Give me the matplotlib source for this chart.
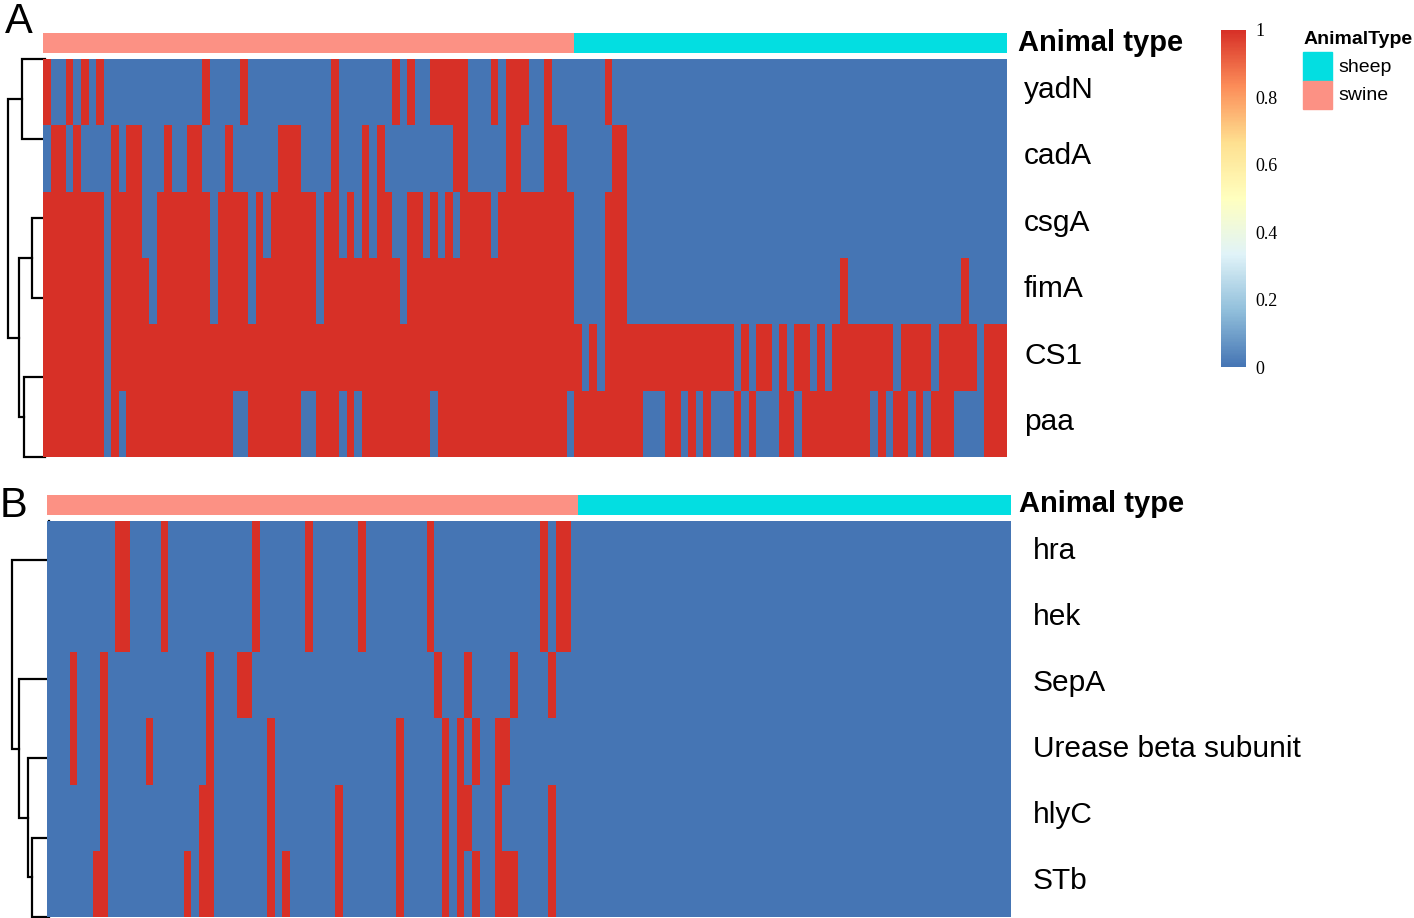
import numpy as np
import matplotlib
matplotlib.use("Agg")
import matplotlib.pyplot as plt
from matplotlib.colors import LinearSegmentedColormap, ListedColormap, Normalize
from matplotlib.cm import ScalarMappable
from matplotlib.patches import Rectangle

# presence (1) / absence (0) of each gene per isolate, 70 swine isolates then 57 sheep isolates
n_swine, n_sheep = 70, 57

genes_a = ["yadN", "cadA", "csgA", "fimA", "CS1", "paa"]
presence_a = [
    "1001010100 0000000000 0100001000 0000000010 0000001010 0111110001 0111001000 0000100000 0000000000 0000000000 0000000000 0000000000 0000000",
    "0110100001 0110001001 1000100000 0111000010 0010100000 0000110000 0110001110 0000011000 0000000000 0000000000 0000000000 0000000000 0000000",
    "1111111101 1110011111 1101111010 1111110110 1010110011 0101011110 1111111111 0000111000 0000000000 0000000000 0000000000 0000000000 0000000",
    "1111111101 1111011111 1101111011 1111110111 1111111011 1111111111 1111111111 0000111000 0000000000 0000000000 0000010000 0000000000 0100000",
    "1111111101 1111111111 1111111111 1111111111 1111111111 1111111111 1111111111 1010111111 1111111111 1010110101 1010111111 1101111011 1110111",
    "1111111101 0111111111 1111100111 1111001110 1011111111 1011111111 1111111110 1111111110 0011010100 0101000110 1111111110 1011010111 0000111",
]

genes_b = ["hra", "hek", "SepA", "Urease beta subunit", "hlyC", "STb"]
presence_b = [
    "0000000001 1000010000 0000000100 0000100000 0100000000 1000000000 0000010110 0000000000 0000000000 0000000000 0000000000 0000000000 0000000",
    "0000000001 1000010000 0000000100 0000100000 0100000000 1000000000 0000010110 0000000000 0000000000 0000000000 0000000000 0000000000 0000000",
    "0001000100 0000000000 0100011000 0000000000 0000000000 0100010000 0100001000 0000000000 0000000000 0000000000 0000000000 0000000000 0000000",
    "0001000100 0001000000 0100000001 0000000000 0000001000 0010101001 1000000000 0000000000 0000000000 0000000000 0000000000 0000000000 0000000",
    "0000000100 0000000000 1100000001 0000000010 0000001000 0010110001 0000001000 0000000000 0000000000 0000000000 0000000000 0000000000 0000000",
    "0000001100 0000000010 1100000001 0100000010 0000001000 0010101001 1100001000 0000000000 0000000000 0000000000 0000000000 0000000000 0000000",
]

# row dendrograms: (child, child, height), new clusters numbered from n_rows
links_a = [(2, 3, 12.7), (4, 5, 21.0), (0, 1, 22.7), (6, 7, 26.0), (8, 9, 36.7)]
links_b = [(0, 1, 0.0), (4, 5, 16.0), (3, 7, 19.3), (2, 8, 27.7), (6, 9, 35.0)]

animal_types = ["swine", "sheep"]
animal_counts = [n_swine, n_sheep]

W, H = 1414, 918
fig = plt.figure(figsize=(W / 100, H / 100), dpi=100)

heat_cmap = LinearSegmentedColormap.from_list(
    "rdylbu", ["#4575B4", "#91BFDB", "#E0F3F8", "#FFFFBF", "#FEE090", "#FC8D59", "#D73027"])
type_colors = {"swine": "#FC9184", "sheep": "#03DEE1"}
SANS = "Liberation Sans"


def to_matrix(rows):
    return np.array([[int(c) for c in r.replace(" ", "")] for r in rows], dtype=float)


def add_ax(x0, y0, x1, y1):
    ax = fig.add_axes([x0 / W, 1 - y1 / H, (x1 - x0) / W, (y1 - y0) / H])
    ax.set_axis_off()
    return ax


def ftext(x, y, s, **kw):
    fig.text(x / W, 1 - y / H, s, **kw)


def draw_dendro(ax, links, n):
    pos = dict(enumerate(np.linspace(0, n, n)))
    hgt = {i: 0.0 for i in range(n)}
    for k, (a, b, h) in enumerate(links):
        ax.plot([hgt[a], h, h, hgt[b]], [pos[a], pos[a], pos[b], pos[b]],
                color="black", lw=1.6, clip_on=False, solid_joinstyle="miter")
        pos[n + k] = (pos[a] + pos[b]) / 2
        hgt[n + k] = h
    ax.set_ylim(n, 0)


def draw_panel(genes, presence, links, letter, letter_xy, bar, heat, dendro_x, label_x, label_dy, title_xy):
    mat = to_matrix(presence)
    n_rows = mat.shape[0]

    ftext(letter_xy[0], letter_xy[1], letter, fontsize=30, family=SANS, va="baseline")

    # annotation bar
    codes = np.concatenate([np.full(c, i) for i, c in enumerate(animal_counts)])[None, :]
    ax_bar = add_ax(heat[0], bar[0], heat[2], bar[1])
    ax_bar.imshow(codes, cmap=ListedColormap([type_colors[t] for t in animal_types]),
                  vmin=0, vmax=1, aspect="auto", interpolation="nearest")
    ftext(title_xy[0], title_xy[1], "Animal type", fontsize=21, family=SANS,
          weight="bold", va="baseline")

    # heatmap
    ax_h = add_ax(*heat)
    ax_h.imshow(mat, cmap=heat_cmap, vmin=0, vmax=1, aspect="auto", interpolation="nearest")
    row_h = (heat[3] - heat[1]) / n_rows
    for i, g in enumerate(genes):
        ftext(label_x, heat[1] + row_h * (i + 0.5) + label_dy, g, fontsize=21.5,
              family=SANS, va="baseline")

    # dendrogram (drawn beneath the heatmap so zero-height links stay hidden)
    root = max(l[2] for l in links)
    ax_d = add_ax(dendro_x[0], heat[1], dendro_x[1], heat[3])
    draw_dendro(ax_d, links, n_rows)
    ax_d.set_xlim(root, 0)
    ax_d.set_zorder(-1)


draw_panel(genes_a, presence_a, links_a, "A", (5, 33), (33, 53), (43.3, 59, 1007, 457),
           (8.3, 45), 1024, 6, (1018, 51))
draw_panel(genes_b, presence_b, links_b, "B", (0, 517), (495, 515), (47, 520.7, 1010.7, 917),
           (11.7, 48.5), 1033, 5, (1019, 511.5))

# colour key
cax = add_ax(1221, 30, 1246, 367)
cax.set_axis_on()
cb = fig.colorbar(ScalarMappable(norm=Normalize(0, 1), cmap=heat_cmap), cax=cax)
cb.outline.set_visible(False)
ticks = [0, 0.2, 0.4, 0.6, 0.8, 1]
cb.set_ticks(ticks)
cb.set_ticklabels(["0", "0.2", "0.4", "0.6", "0.8", "1"])
cax.tick_params(length=0, pad=7, labelsize=13)
for t in cax.get_yticklabels():
    t.set_family("Liberation Serif")

# annotation legend
ftext(1304, 44, "AnimalType", fontsize=14, family=SANS, weight="bold", va="baseline")
for i, t in enumerate(["sheep", "swine"]):
    y0 = 52 + i * 28.5
    fig.patches.append(Rectangle((1303 / W, 1 - (y0 + 28.5) / H), 29 / W, 28.5 / H,
                                 transform=fig.transFigure, color=type_colors[t]))
    ftext(1338, y0 + 20, t, fontsize=14, family=SANS, va="baseline")

fig.savefig("out.png", dpi=100)
